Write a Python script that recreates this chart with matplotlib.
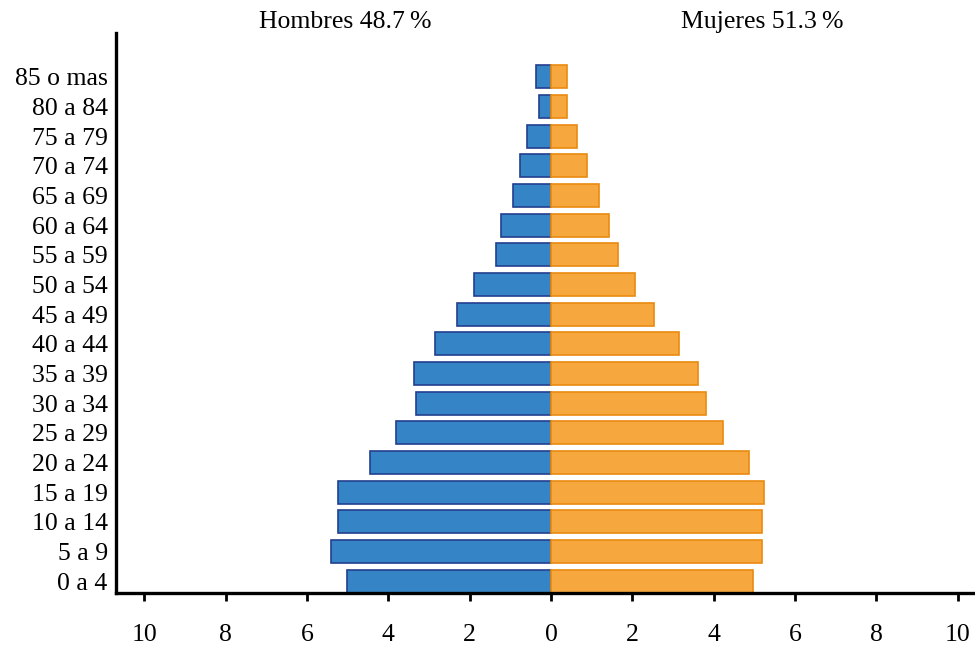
import matplotlib
matplotlib.use("Agg")
import matplotlib.pyplot as plt
import numpy as np

plt.rcParams['font.family'] = ['Liberation Serif', 'DejaVu Serif']

ages = ["0 a 4", "5 a 9", "10 a 14", "15 a 19", "20 a 24", "25 a 29", "30 a 34",
        "35 a 39", "40 a 44", "45 a 49", "50 a 54", "55 a 59", "60 a 64",
        "65 a 69", "70 a 74", "75 a 79", "80 a 84", "85 o mas"]
hombres = [5.03, 5.42, 5.24, 5.24, 4.46, 3.81, 3.33, 3.38, 2.85, 2.32, 1.90,
           1.36, 1.23, 0.93, 0.76, 0.58, 0.30, 0.36]
mujeres = [4.98, 5.18, 5.18, 5.23, 4.87, 4.22, 3.81, 3.62, 3.15, 2.54, 2.07,
           1.66, 1.42, 1.17, 0.88, 0.64, 0.40, 0.40]
xticks = [-10, -8, -6, -4, -2, 0, 2, 4, 6, 8, 10]
xticklabels = ["10", "8", "6", "4", "2", "0", "2", "4", "6", "8", "10"]
titulo_h = "Hombres 48.7\u2009%"
titulo_m = "Mujeres 51.3\u2009%"

W, H = 975, 646
fig = plt.figure(figsize=(W/100, H/100), dpi=100)
ax = fig.add_axes([116/W, 1-593/H, (975-116)/W, (593-33)/H])

y = np.arange(len(ages))
ax.barh(y, [-v for v in hombres], height=0.77, color="#3585C6",
        edgecolor="#22408F", linewidth=1.2)
ax.barh(y, mujeres, height=0.77, color="#F6A83F",
        edgecolor="#E98A10", linewidth=1.2)

ax.set_xlim(-10.7, 10.43)
ax.set_ylim(-0.4, 18.48)
ax.set_yticks(y)
ax.set_yticklabels(ages, fontsize=18.5)
ax.tick_params(axis='y', length=0, pad=6)
ax.set_xticks(xticks)
ax.set_xticklabels(xticklabels, fontsize=18.5)
ax.tick_params(axis='x', length=6, width=2, pad=16, direction='out')

for s in ['top', 'right']:
    ax.spines[s].set_visible(False)
for s in ['left', 'bottom']:
    ax.spines[s].set_linewidth(2.4)

fig.text(345/W, 1-22/H, titulo_h, ha='center', va='center', fontsize=18.5)
fig.text(762/W, 1-22/H, titulo_m, ha='center', va='center', fontsize=18.5)

fig.savefig("out.png", dpi=100)
